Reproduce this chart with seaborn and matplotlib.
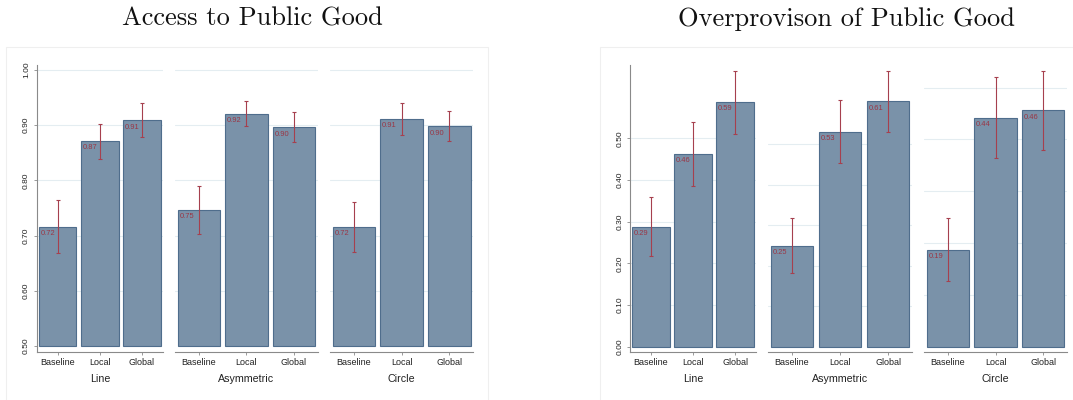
import numpy as np
import pandas as pd
import seaborn as sns
import matplotlib.pyplot as plt
from matplotlib.patches import Rectangle

# ---------------- data ----------------
conditions = ["Baseline", "Local", "Global"]
networks = ["Line", "Asymmetric", "Circle"]
titles = ["Access to Public Good", "Overprovison of Public Good"]

# Access to public good (rows: Line, Asymmetric, Circle)
access_mean = [[0.716, 0.871, 0.909], [0.746, 0.920, 0.896], [0.716, 0.911, 0.898]]
access_lo = [[0.668, 0.838, 0.879], [0.702, 0.898, 0.870], [0.670, 0.883, 0.871]]
access_hi = [[0.765, 0.903, 0.940], [0.789, 0.943, 0.924], [0.761, 0.941, 0.926]]
access_ticks = [0.5, 0.6, 0.7, 0.8, 0.9, 1.0]

# Overprovision of public good
over_mean = [[0.287, 0.462, 0.587], [0.249, 0.531, 0.606], [0.187, 0.442, 0.456]]
over_lo = [[0.217, 0.385, 0.510], [0.183, 0.453, 0.530], [0.127, 0.365, 0.379]]
over_hi = [[0.358, 0.540, 0.662], [0.317, 0.609, 0.681], [0.248, 0.521, 0.532]]
over_ticks = [0.0, 0.1, 0.2, 0.3, 0.4, 0.5]

# ---------------- style ----------------
FILL = "#7a92a9"
EDGE = "#4f6d8c"
ERR = "#a6404e"
LBL = "#9a3645"
SPINE = "#8a8a8a"
GRID = "#e4edf1"

sns.set_theme(style="white")
plt.rcParams["font.family"] = ["Liberation Sans", "DejaVu Sans"]

W, H = 1073, 400
fig = plt.figure(figsize=(W / 100, H / 100), dpi=100)


def px_axes(x0, x1, y0=65, y1=352):
    return fig.add_axes([x0 / W, 1 - y1 / H, (x1 - x0) / W, (y1 - y0) / H])


charts = [
    dict(mean=access_mean, lo=access_lo, hi=access_hi, ticks=access_ticks, base=0.5,
         xs=[(36.7, 163), (175, 317.7), (330, 473.3)],
         ylims=[(0.489, 1.009)] * 3),
    dict(mean=over_mean, lo=over_lo, hi=over_hi, ticks=over_ticks, base=0.0,
         xs=[(630, 756), (768, 912), (924, 1067)],
         ylims=[(-0.0127, 0.6755), (-0.013, 0.6956), (-0.0102, 0.5435)]),
]

BAR_W = 0.89
for c in charts:
    for i, net in enumerate(networks):
        x0, x1 = c["xs"][i]
        ax = px_axes(x0, x1)
        m = np.array(c["mean"][i])
        lo = np.array(c["lo"][i])
        hi = np.array(c["hi"][i])
        df = pd.DataFrame({"condition": conditions, "value": m})
        sns.barplot(data=df, x="condition", y="value", ax=ax, errorbar=None,
                    color=FILL, saturation=1, edgecolor=EDGE, linewidth=0.8,
                    width=BAR_W, zorder=2)
        base = c["base"]
        if base != 0:
            for p in ax.patches:
                top = p.get_y() + p.get_height()
                p.set_y(base)
                p.set_height(top - base)
        xpos = np.arange(len(conditions))
        ax.errorbar(xpos, m, yerr=[m - lo, hi - m], fmt="none", ecolor=ERR,
                    elinewidth=0.8, capsize=1.6, capthick=0.8, zorder=3)
        for xi, v in zip(xpos, m):
            ax.annotate(f"{v:.2f}", xy=(xi - BAR_W / 2, v), xytext=(1.3, -2.4),
                        textcoords="offset points", ha="left", va="top",
                        fontsize=5.4, color=LBL, zorder=4)
        ax.set_xlim(-0.5, 2.5)
        ax.set_ylim(*c["ylims"][i])
        ax.set_yticks(c["ticks"])
        ax.yaxis.grid(True, color=GRID, linewidth=0.8)
        ax.set_axisbelow(True)
        ax.yaxis.get_gridlines()[0].set_visible(False)
        ax.set_ylabel("")
        ax.set_xlabel(net, fontsize=7.7, labelpad=5, color="#222222")
        ax.tick_params(axis="x", length=2.4, width=0.6, color=SPINE, labelsize=6.5,
                       pad=2.2, labelcolor="#222222", bottom=True)
        sns.despine(ax=ax, left=(i != 0))
        ax.spines["bottom"].set_color(SPINE)
        ax.spines["bottom"].set_linewidth(0.8)
        if i == 0:
            ax.set_yticklabels([f"{t:.2f}" for t in c["ticks"]], rotation=90, va="center")
            ax.tick_params(axis="y", length=2.4, width=0.6, color=SPINE, labelsize=6,
                           pad=2.4, labelcolor="#222222", left=True)
            ax.spines["left"].set_color(SPINE)
            ax.spines["left"].set_linewidth(0.8)
        else:
            ax.tick_params(axis="y", left=False, labelleft=False)

# faint frames of the two combined graphs
fig.add_artist(Rectangle((6 / W, -0.05), (488 - 6) / W, 1 - 47 / H + 0.05,
                         transform=fig.transFigure, fill=False, edgecolor="#efefef", lw=0.8))
fig.add_artist(Rectangle((600 / W, -0.05), 1.1 - 600 / W, 1 - 47 / H + 0.05,
                         transform=fig.transFigure, fill=False, edgecolor="#efefef", lw=0.8))

fig.text(252 / W, 1 - 19 / H, titles[0], ha="center", va="center", fontsize=19,
         family="cmr10", color="#111111")
fig.text(846 / W, 1 - 19 / H, titles[1], ha="center", va="center", fontsize=19,
         family="cmr10", color="#111111")

fig.savefig("out.png", dpi=100, facecolor="white")
